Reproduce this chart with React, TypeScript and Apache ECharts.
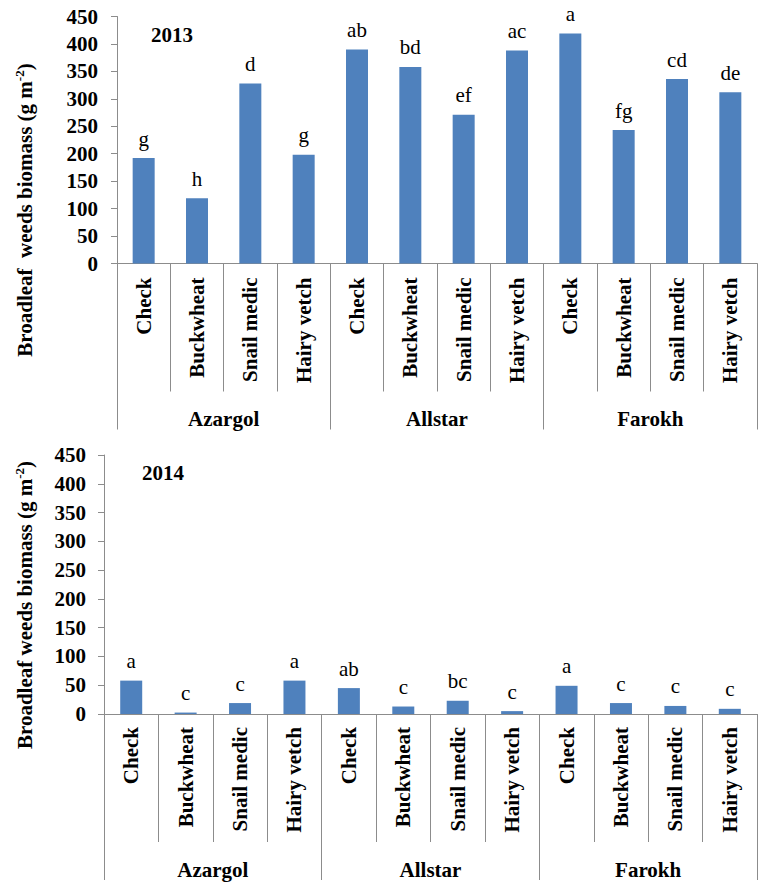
import React, { useEffect, useRef } from "react";
import * as echarts from "echarts";

// Cover-crop treatments within each cultivar
const treatments = ["Check", "Buckwheat", "Snail medic", "Hairy vetch"];
const cultivars = ["Azargol", "Allstar", "Farokh"];

// Broadleaf weed biomass (g m-2)
const biomass2013 = [192, 119, 328, 198, 390, 358, 271, 388, 419, 243, 336, 312];
const biomass2014 = [58, 2.5, 19, 58, 45, 13, 23, 5, 49, 19, 14, 9];

// Mean-separation letters
const letters2013 = ["g", "h", "d", "g", "ab", "bd", "ef", "ac", "a", "fg", "cd", "de"];
const letters2014 = ["a", "c", "c", "a", "ab", "c", "bc", "c", "a", "c", "c", "c"];

const yTicks = { min: 0, max: 450, interval: 50 };

const FONT = "Liberation Serif";
const AXIS_GRAY = "#8c8c8c";
const BAR_BLUE = "#4f81bd";

const categoryKeys = cultivars.flatMap((c) => treatments.map((t) => `${c}::${t}`));

function buildAxes(gridIndex: number, labelMargin: number) {
  return [
    {
      type: "category",
      gridIndex,
      position: "bottom",
      data: categoryKeys,
      axisLine: { show: true, lineStyle: { color: AXIS_GRAY, width: 1 } },
      axisTick: { show: true, interval: 0, length: 128, lineStyle: { color: AXIS_GRAY } },
      axisLabel: {
        interval: 0,
        rotate: 90,
        margin: labelMargin,
        fontFamily: FONT,
        fontWeight: "bold",
        fontSize: 21,
        color: "#000",
        formatter: (v: string) => v.split("::")[1],
      },
    },
    {
      type: "category",
      gridIndex,
      position: "bottom",
      data: cultivars,
      axisLine: { show: false },
      axisTick: { show: true, interval: 0, length: 166, lineStyle: { color: AXIS_GRAY } },
      axisLabel: {
        interval: 0,
        margin: 145,
        fontFamily: FONT,
        fontWeight: "bold",
        fontSize: 21,
        color: "#000",
      },
    },
  ];
}

function buildYAxis(gridIndex: number, margin: number) {
  return {
    type: "value",
    gridIndex,
    min: yTicks.min,
    max: yTicks.max,
    interval: yTicks.interval,
    splitLine: { show: false },
    axisLine: { show: true, lineStyle: { color: AXIS_GRAY, width: 1 } },
    axisTick: { show: true, length: 6, lineStyle: { color: AXIS_GRAY } },
    axisLabel: {
      margin,
      fontFamily: FONT,
      fontWeight: "bold",
      fontSize: 21,
      color: "#000",
    },
  };
}

function buildSeries(xAxisIndex: number, yAxisIndex: number, values: number[], labels: string[]) {
  return {
    type: "bar",
    xAxisIndex,
    yAxisIndex,
    data: values,
    barWidth: 22,
    itemStyle: { color: BAR_BLUE },
    label: {
      show: true,
      position: "top",
      distance: 9,
      fontFamily: FONT,
      fontSize: 21,
      color: "#000",
      formatter: (p: any) => labels[p.dataIndex],
    },
  };
}

function yTitle(x: number, y: number, main: string) {
  return {
    type: "text",
    x,
    y,
    rotation: Math.PI / 2,
    style: {
      text: `{t|${main} (g m}{s|-2}{t|)}`,
      align: "center",
      verticalAlign: "middle",
      rich: {
        t: { fontFamily: FONT, fontWeight: "bold", fontSize: 21, lineHeight: 24, fill: "#000" },
        s: {
          fontFamily: FONT,
          fontWeight: "bold",
          fontSize: 13,
          lineHeight: 14,
          verticalAlign: "top",
          fill: "#000",
        },
      },
    },
  };
}

function yearLabel(x: number, y: number, text: string) {
  return {
    type: "text",
    x,
    y,
    style: {
      text,
      align: "center",
      verticalAlign: "middle",
      fontFamily: FONT,
      fontWeight: "bold",
      fontSize: 21,
      fill: "#000",
    },
  };
}

export default function App() {
  const ref = useRef<HTMLDivElement>(null);

  useEffect(() => {
    if (!ref.current) return;
    const chart = echarts.init(ref.current, undefined, { renderer: "svg" });
    const [x0, x1] = buildAxes(0, 14);
    const [x2, x3] = buildAxes(1, 13);
    chart.setOption({
      animation: false,
      backgroundColor: "#fff",
      textStyle: { fontFamily: FONT },
      grid: [
        { left: 117, top: 16.5, width: 640, height: 247 },
        { left: 104, top: 455, width: 653, height: 259 },
      ],
      xAxis: [x0, x1, x2, x3],
      yAxis: [buildYAxis(0, 19), buildYAxis(1, 18)],
      series: [
        buildSeries(0, 0, biomass2013, letters2013),
        buildSeries(2, 1, biomass2014, letters2014),
      ],
      graphic: [
        yTitle(25, 210, "Broadleaf  weeds biomass"),
        yTitle(25, 605, "Broadleaf weeds biomass"),
        yearLabel(172, 35, "2013"),
        yearLabel(163, 473, "2014"),
      ],
    });
    return () => chart.dispose();
  }, []);

  return (
    <div
      ref={ref}
      style={{ position: "fixed", left: 0, top: 0, width: 759, height: 882, background: "#fff" }}
    />
  );
}
